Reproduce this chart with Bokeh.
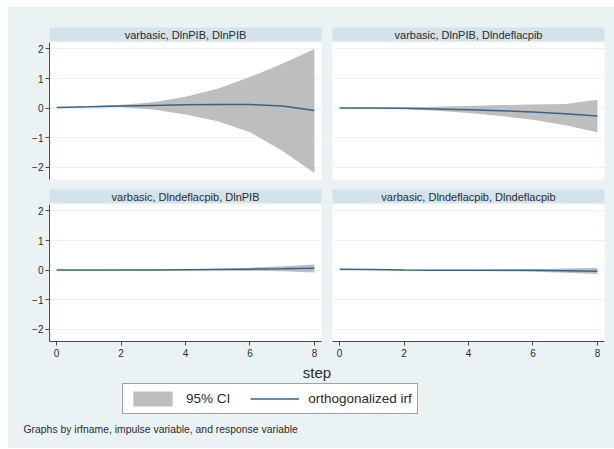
from bokeh.plotting import figure
from bokeh.models import Range1d, LinearAxis, Grid, FixedTicker, Label, Legend, LegendItem
from bokeh.layouts import column, row
from bokeh.embed import file_html
from bokeh.resources import INLINE

# ---------------- data ----------------
steps = [0, 1, 2, 3, 4, 5, 6, 7, 8]
x_ticks = [0, 2, 4, 6, 8]
y_ticks = [-2, -1, 0, 1, 2]

titles = [
    "varbasic, DlnPIB, DlnPIB",
    "varbasic, DlnPIB, Dlndeflacpib",
    "varbasic, Dlndeflacpib, DlnPIB",
    "varbasic, Dlndeflacpib, Dlndeflacpib",
]

# varbasic, DlnPIB, DlnPIB
tl_irf = [0.02, 0.04, 0.07, 0.09, 0.11, 0.12, 0.12, 0.07, -0.08]
tl_upper = [0.02, 0.06, 0.11, 0.20, 0.38, 0.65, 1.05, 1.50, 2.00]
tl_lower = [0.02, 0.03, 0.03, -0.05, -0.22, -0.45, -0.82, -1.45, -2.20]

# varbasic, DlnPIB, Dlndeflacpib
tr_irf = [0.00, 0.00, -0.01, -0.03, -0.06, -0.09, -0.13, -0.19, -0.27]
tr_upper = [0.00, 0.01, 0.02, 0.04, 0.07, 0.10, 0.12, 0.14, 0.28]
tr_lower = [0.00, -0.01, -0.04, -0.09, -0.17, -0.27, -0.40, -0.58, -0.82]

# varbasic, Dlndeflacpib, DlnPIB
bl_irf = [0.00, 0.00, 0.00, 0.00, 0.01, 0.02, 0.03, 0.04, 0.06]
bl_upper = [0.00, 0.00, 0.01, 0.02, 0.03, 0.05, 0.08, 0.13, 0.19]
bl_lower = [0.00, 0.00, -0.01, -0.01, -0.01, -0.01, -0.02, -0.04, -0.08]

# varbasic, Dlndeflacpib, Dlndeflacpib
br_irf = [0.03, 0.02, 0.00, -0.01, -0.01, -0.01, -0.01, -0.02, -0.04]
br_upper = [0.03, 0.03, 0.01, 0.01, 0.01, 0.02, 0.03, 0.05, 0.08]
br_lower = [0.03, 0.01, -0.01, -0.02, -0.03, -0.04, -0.06, -0.09, -0.13]

legend_labels = ["95% CI", "orthogonalized irf"]
x_label = "step"
note = "Graphs by irfname, impulse variable, and response variable"

# ---------------- style ----------------
BG = "#EAF2F3"
HDR = "#D4E3EA"
GRID = "#EBF2F4"
CI = "#BEBEBE"
LINE = "#36648D"
AXIS = "#4A4A4A"
TXT = "#2B2B2B"
FONT = "Liberation Sans"

X_RANGE = (-0.22, 8.22)
Y_RANGE = (-2.42, 2.22)

LW, RW = 318, 288          # column widths
LB, LR = 41, 5             # left column borders
RB, RR = 6, 10             # right column borders


def st(z):
    return {"background-color": BG, "position": "relative", "z-index": str(z)}


def header(text, width, bl, br, height, top, z, margin):
    h = figure(width=width, height=height, x_range=Range1d(0, 1), y_range=Range1d(0, 1),
               x_axis_location=None, y_axis_location=None, toolbar_location=None,
               output_backend="svg", min_border_left=bl, min_border_right=br,
               min_border_top=top, min_border_bottom=0, styles=st(z), margin=margin)
    h.background_fill_color = HDR
    h.border_fill_color = BG
    h.outline_line_color = None
    h.xgrid.visible = False
    h.ygrid.visible = False
    h.add_layout(Label(x=0.5, y=0.5, text=text, text_align="center", text_baseline="middle",
                       text_font=FONT, text_font_size="11px", text_color=TXT))
    return h


def panel(irf, lo, hi, width, height, bl, br, top, bb, left_axis, bottom_axis, z, margin):
    p = figure(width=width, height=height, x_range=Range1d(*X_RANGE), y_range=Range1d(*Y_RANGE),
               x_axis_location=None, y_axis_location=None, toolbar_location=None,
               output_backend="svg", min_border_left=bl, min_border_right=br,
               min_border_top=top, min_border_bottom=bb, styles=st(z), margin=margin)
    p.background_fill_color = "white"
    p.border_fill_color = BG
    p.outline_line_color = None
    p.xgrid.visible = False
    p.ygrid.visible = False
    p.add_layout(Grid(dimension=1, ticker=FixedTicker(ticks=y_ticks),
                      grid_line_color=GRID, grid_line_width=1))
    p.varea(x=steps, y1=lo, y2=hi, fill_color=CI, fill_alpha=1.0)
    p.line(x=steps, y=irf, line_color=LINE, line_width=1.5)
    for loc, ticks, so in (("left", y_ticks, 2), ("below", x_ticks, 3)):
        if (loc == "left" and left_axis) or (loc == "below" and bottom_axis):
            ax = LinearAxis(ticker=FixedTicker(ticks=ticks))
            ax.axis_line_color = AXIS
            ax.major_tick_line_color = AXIS
            ax.major_tick_out = 4
            ax.major_tick_in = 0
            ax.minor_tick_line_color = None
            ax.major_label_standoff = so
            ax.major_label_text_font = FONT
            ax.major_label_text_font_size = "10px"
            ax.major_label_text_color = TXT
            p.add_layout(ax, loc)
    return p


LM = (0, 0, 0, 0)
RM = (0, 0, 0, -1)   # right column overlaps the left one by 1px

h1 = header(titles[0], LW, LB, LR, 35, 20, 1, LM)
h2 = header(titles[1], RW + 1, RB + 1, RR, 35, 20, 2, RM)
p1 = panel(tl_irf, tl_lower, tl_upper, LW, 144, LB, LR, 1, 6, True, False, 1, LM)
p2 = panel(tr_irf, tr_lower, tr_upper, RW + 1, 144, RB + 1, RR, 1, 6, False, False, 2, RM)
h3 = header(titles[2], LW, LB, LR, 20, 5, 1, LM)
h4 = header(titles[3], RW + 1, RB + 1, RR, 20, 5, 2, RM)
p3 = panel(bl_irf, bl_lower, bl_upper, LW, 158, LB, LR, 1, 20, True, True, 1, LM)
p4 = panel(br_irf, br_lower, br_upper, RW + 1, 158, RB + 1, RR, 1, 20, False, True, 2, RM)

# footer with axis title, legend and note
FW, FH = LW + RW, 88
f = figure(width=FW, height=FH, x_range=Range1d(0, FW), y_range=Range1d(0, FH),
           x_axis_location=None, y_axis_location=None, toolbar_location=None,
           output_backend="svg", min_border=0, styles=st(5), margin=(-1, 0, 0, 0))
f.background_fill_color = BG
f.border_fill_color = BG
f.outline_line_color = None
f.xgrid.visible = False
f.ygrid.visible = False
f.add_layout(Label(x=308.5, y=76, text=x_label, text_align="center", text_baseline="middle",
                   text_font=FONT, text_font_size="15px", text_color=TXT))
f.add_layout(Label(x=15, y=19, text=note, text_align="left", text_baseline="middle",
                   text_font=FONT, text_font_size="10.4px", text_color=TXT))
r_ci = f.varea(x=[-100, -99], y1=[-100, -100], y2=[-99, -99], fill_color=CI)
r_ln = f.line(x=[-100, -99], y=[-100, -100], line_color=LINE, line_width=1.5)
leg = Legend(items=[LegendItem(label=legend_labels[0], renderers=[r_ci]),
                    LegendItem(label=legend_labels[1], renderers=[r_ln])],
             orientation="horizontal", location=(114, 34), margin=0, padding=5,
             spacing=20, label_standoff=9, glyph_width=49, glyph_height=19,
             label_height=19, label_text_font=FONT, label_text_font_size="13.5px",
             label_text_color=TXT, border_line_color="#444444", border_line_width=1,
             background_fill_color="white", background_fill_alpha=1.0)
f.add_layout(leg, "center")

rows = [
    row(h1, h2, spacing=0, styles=st(1)),
    row(p1, p2, spacing=0, styles=st(2), margin=(-1, 0, 0, 0)),
    row(h3, h4, spacing=0, styles=st(3), margin=(-1, 0, 0, 0)),
    row(p3, p4, spacing=0, styles=st(4), margin=(-1, 0, 0, 0)),
    f,
]
layout = column(*rows, spacing=0, margin=(7, 0, 0, 8), styles={"background-color": BG})

open("out.html", "w").write(file_html(layout, INLINE))
